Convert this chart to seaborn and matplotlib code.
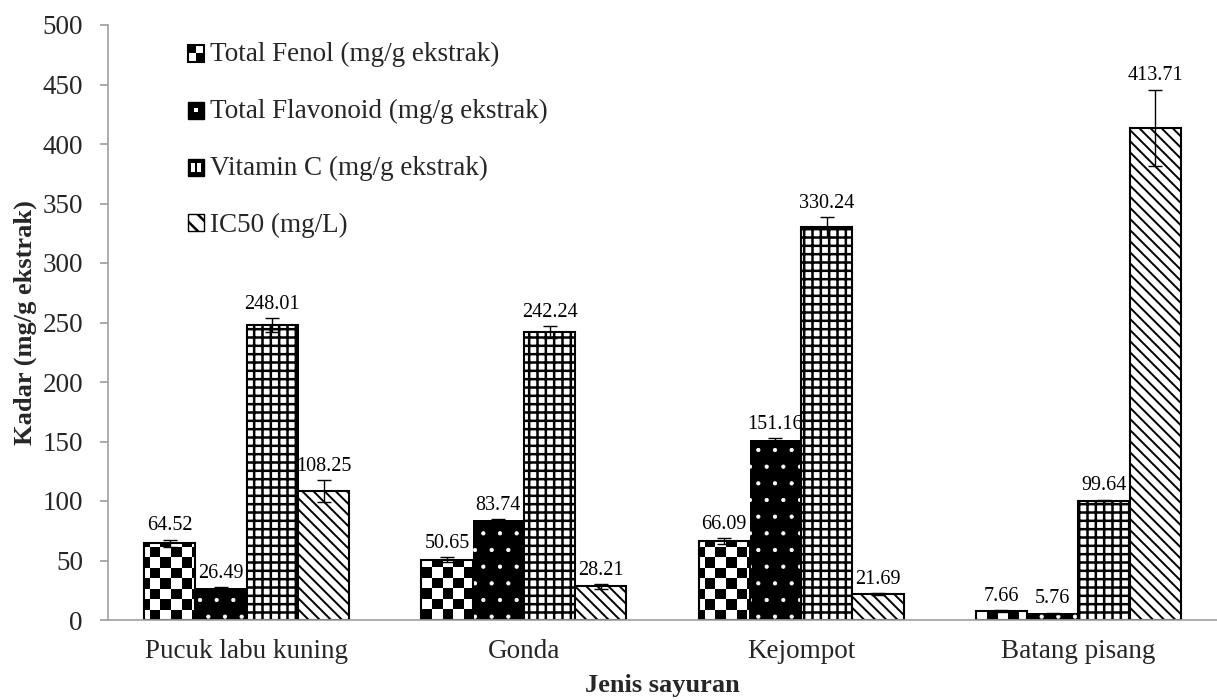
import numpy as np
import pandas as pd
import matplotlib
matplotlib.use("Agg")
import matplotlib.pyplot as plt
import seaborn as sns
from matplotlib.patches import Patch, Rectangle

categories = ['Pucuk labu kuning', 'Gonda', 'Kejompot', 'Batang pisang']
series = ['Total Fenol (mg/g ekstrak)', 'Total Flavonoid (mg/g ekstrak)',
          'Vitamin C (mg/g ekstrak)', 'IC50 (mg/L)']

fenol = [64.52, 50.65, 66.09, 7.66]
flavonoid = [26.49, 83.74, 151.16, 5.76]
vitamin_c = [248.01, 242.24, 330.24, 99.64]
ic50 = [108.25, 28.21, 21.69, 413.71]

fenol_err = [3, 2, 2.5, 1]
flavonoid_err = [1, 1, 2, 0.5]
vitamin_c_err = [6, 5, 8, 1.5]
ic50_err = [9, 2, 1, 32]


class CheckerHandler:
    # small 2x2 checker square for the legend
    def legend_artist(self, legend, orig_handle, fontsize, handlebox):
        x0, y0 = handlebox.xdescent, handlebox.ydescent
        w, h = handlebox.width, handlebox.height
        tr = handlebox.get_transform()
        box = Rectangle((x0, y0), w, h, facecolor='white', edgecolor='black', lw=1.5, transform=tr)
        handlebox.add_artist(box)
        for dx, dy in [(0, 1), (1, 0)]:
            handlebox.add_artist(Rectangle((x0 + dx * w / 2, y0 + dy * h / 2), w / 2, h / 2,
                                           facecolor='black', lw=0, transform=tr))
        return box


class DotHandler:
    # black square with one white dot
    def legend_artist(self, legend, orig_handle, fontsize, handlebox):
        x0, y0 = handlebox.xdescent, handlebox.ydescent
        w, h = handlebox.width, handlebox.height
        tr = handlebox.get_transform()
        box = Rectangle((x0, y0), w, h, facecolor='black', edgecolor='black', lw=1, transform=tr)
        handlebox.add_artist(box)
        handlebox.add_artist(Rectangle((x0 + w * 0.38, y0 + h * 0.38), w * 0.24, h * 0.24,
                                       facecolor='white', lw=0, transform=tr))
        return box


class GridHandler:
    # black square with two white cells
    def legend_artist(self, legend, orig_handle, fontsize, handlebox):
        x0, y0 = handlebox.xdescent, handlebox.ydescent
        w, h = handlebox.width, handlebox.height
        tr = handlebox.get_transform()
        box = Rectangle((x0, y0), w, h, facecolor='black', edgecolor='black', lw=1, transform=tr)
        handlebox.add_artist(box)
        for dx in [0.18, 0.56]:
            handlebox.add_artist(Rectangle((x0 + w * dx, y0 + h * 0.22), w * 0.26, h * 0.56,
                                           facecolor='white', lw=0, transform=tr))
        return box


def main():
    values = [fenol, flavonoid, vitamin_c, ic50]
    errors = [fenol_err, flavonoid_err, vitamin_c_err, ic50_err]
    df = pd.DataFrame({
        'Jenis sayuran': categories * len(series),
        'Komponen': [s for s in series for _ in categories],
        'Kadar': [v for vals in values for v in vals],
    })

    sns.set_theme(style='white')
    plt.rcParams['font.family'] = ['Liberation Serif', 'DejaVu Serif']
    plt.rcParams['hatch.linewidth'] = 1.8

    fig, ax = plt.subplots(figsize=(12.17, 7.0), dpi=100)
    fig.subplots_adjust(left=108 / 1217, right=1.0, bottom=80 / 700, top=1 - 25 / 700)

    sns.barplot(data=df, x='Jenis sayuran', y='Kadar', hue='Komponen', hue_order=series,
                palette=['white'] * 4, edgecolor='black', linewidth=1.5, width=0.74,
                errorbar=None, legend=False, ax=ax)
    ax.set_xlim(-0.5, 3.5)
    ax.set_ylim(0, 500)

    # checkerboard fill for Total Fenol
    rows, cols = 57, 106
    checker = np.add.outer(np.arange(rows), np.arange(cols)) % 2
    for bar in ax.containers[0]:
        im = ax.imshow(checker, cmap='gray', extent=(-0.5, 3.5, 0, 500), aspect='auto',
                       interpolation='nearest', origin='lower', zorder=1.5)
        im.set_clip_path(bar)
        bar.set_facecolor('none')
        bar.set_zorder(2)

    for bar in ax.containers[1]:
        bar.set_facecolor('black')
        bar.set_edgecolor('white')
        bar.set_hatch('.')
        bar.set_linewidth(0)
        if hasattr(bar, 'set_hatch_linewidth'):
            bar.set_hatch_linewidth(0.6)
    for bar in ax.containers[2]:
        bar.set_hatch('++')
    for bar in ax.containers[3]:
        bar.set_hatch('\\\\\\')
        if hasattr(bar, 'set_hatch_linewidth'):
            bar.set_hatch_linewidth(1.4)

    ax.set_xlim(-0.5, 3.5)
    ax.set_ylim(0, 500)

    # error bars and value labels
    for cont, vals, errs in zip(ax.containers, values, errors):
        xs = [b.get_x() + b.get_width() / 2 for b in cont]
        ax.errorbar(xs, vals, yerr=errs, fmt='none', ecolor='black', elinewidth=1,
                    capsize=5, capthick=1, zorder=4)
        for x, v, e in zip(xs, vals, errs):
            ax.annotate(f'{v:.2f}', (x, v + e), xytext=(0, 3), textcoords='offset points',
                        ha='center', va='bottom', fontsize=14.5, color='black', zorder=5)

    ax.set_yticks(np.arange(0, 501, 50))
    ax.tick_params(axis='y', which='major', direction='out', length=6, color='#a0a0a0',
                   labelsize=19.5, left=True, pad=12)
    ax.tick_params(axis='x', length=0, labelsize=19.5, pad=14)
    for side in ['top', 'right']:
        ax.spines[side].set_visible(False)
    for side in ['left', 'bottom']:
        ax.spines[side].set_color('#a0a0a0')
        ax.spines[side].set_linewidth(1.2)

    ax.set_xlabel('Jenis sayuran', fontsize=19, fontweight='bold', labelpad=7)
    ax.set_ylabel('Kadar (mg/g ekstrak)', fontsize=19, fontweight='bold', labelpad=4)

    handles = [
        Patch(facecolor='white', edgecolor='black'),
        Patch(facecolor='black', edgecolor='black'),
        Patch(facecolor='white', edgecolor='black'),
        Patch(facecolor='white', edgecolor='black', hatch='\\\\'),
    ]
    ax.legend(handles, series, loc='upper left', bbox_to_anchor=(0.072, 0.972),
              frameon=False, fontsize=19.5, handlelength=0.6, handleheight=0.6,
              handletextpad=0.2, labelspacing=1.18, borderpad=0, borderaxespad=0,
              handler_map={handles[0]: CheckerHandler(), handles[1]: DotHandler(),
                           handles[2]: GridHandler()})

    plt.savefig('out.png', dpi=100)


if __name__ == "__main__":
    main()
